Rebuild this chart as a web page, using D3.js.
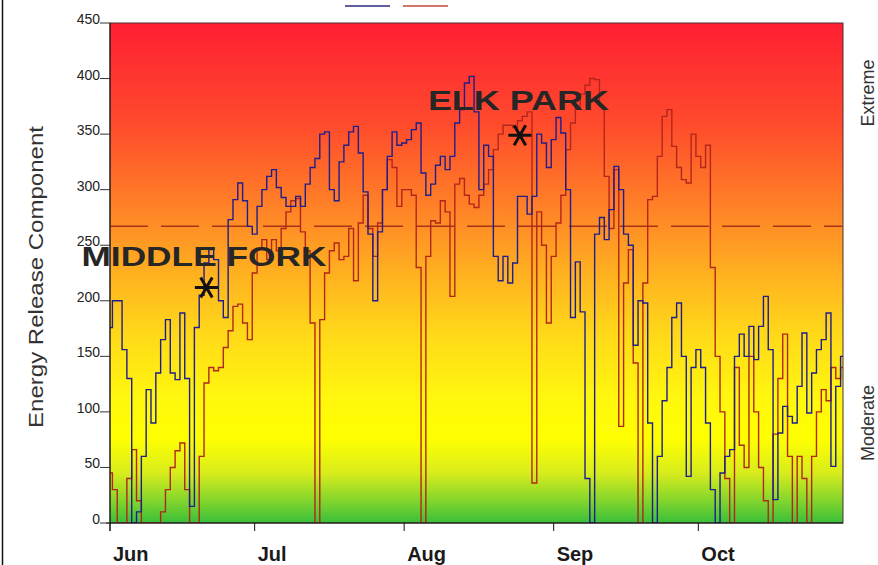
<!DOCTYPE html>
<html lang="en">
<head>
<meta charset="UTF-8">
<title>Energy Release Component</title>
<script src="https://d3js.org/d3.v7.min.js"></script>
<style>
  body { margin: 0; background: #fff; }
  svg { display: block; }
  .ytick text { font-family: Arial, "Liberation Sans", sans-serif; font-size: 14px; fill: #222; }
  .month { font-family: Arial, "Liberation Sans", sans-serif; font-size: 20px; font-weight: bold; fill: #1a1a1a; }
  .side { font-family: Arial, "Liberation Sans", sans-serif; fill: #333; }
  .site { font-family: Arial, "Liberation Sans", sans-serif; font-weight: bold; fill: #262626; }
</style>
</head>
<body>
<div id="chart"></div>
<script>
// daily values Jun 1 .. Oct 31
const startDay = new Date(2007, 5, 1);
const endDay = new Date(2007, 9, 31);

const middleFork = [
  176, 200, 200, 156, 130, 0, 10, 60, 120, 90,
  135, 165, 183, 135, 129, 189, 130, 15, 176, 205,
  234, 246, 237, 200, 185, 273, 291, 306, 290, 267,
  260, 285, 300, 312, 318, 302, 293, 285, 285, 294,
  285, 305, 320, 328, 350, 352, 300, 290, 325, 340,
  352, 357, 333, 298, 260, 200, 262, 300, 330, 352,
  340, 342, 345, 354, 360, 315, 295, 305, 322, 330,
  318, 330, 360, 372, 396, 402, 370, 300, 340, 330,
  240, 218, 240, 216, 234, 294, 294, 278, 294, 350,
  342, 320, 345, 365, 351, 300, 185, 235, 190, 40,
  0, 260, 275, 255, 282, 321, 300, 260, 250, 160,
  200, 198, 90, 0, 60, 110, 140, 185, 198, 150,
  42, 140, 156, 140, 90, 30, 0, 45, 60, 66,
  150, 170, 150, 177, 147, 177, 204, 156, 21, 81,
  105, 96, 90, 123, 171, 99, 135, 156, 165, 189,
  51, 123, 150
];

const elkPark = [
  45, 30, 0, 0, 40, 66, 20, 0, 0, 0,
  0, 10, 30, 50, 65, 72, 30, 0, 0, 60,
  126, 140, 137, 140, 158, 173, 195, 197, 180, 165,
  225, 246, 255, 237, 255, 245, 265, 280, 290, 292,
  262, 245, 180, 0, 183, 225, 245, 252, 237, 240,
  265, 218, 270, 295, 265, 240, 270, 300, 327, 320,
  285, 300, 300, 295, 230, 0, 240, 272, 270, 290,
  280, 204, 305, 310, 295, 287, 284, 295, 305, 318,
  336, 350, 358, 358, 356, 362, 366, 370, 36, 280,
  250, 180, 240, 270, 295, 336, 360, 373, 386, 394,
  400, 399, 375, 312, 265, 318, 87, 216, 246, 144,
  0, 216, 291, 294, 330, 366, 372, 339, 320, 309,
  306, 350, 330, 320, 340, 230, 150, 100, 40, 0,
  140, 70, 50, 150, 100, 50, 20, 0, 80, 130,
  170, 60, 0, 60, 40, 0, 60, 100, 120, 110,
  140, 130, 140
];

const yTicks = [0, 50, 100, 150, 200, 250, 300, 350, 400, 450];
const monthStarts = [new Date(2007, 5, 1), new Date(2007, 6, 1), new Date(2007, 7, 1), new Date(2007, 8, 1), new Date(2007, 9, 1)];
const thresholdValue = 267;
const sites = [
  { name: "MIDDLE FORK", date: new Date(2007, 5, 21), value: 212 },
  { name: "ELK PARK", date: new Date(2007, 7, 25), value: 349 }
];

const width = 878, height = 565;
const plotLeft = 110, plotRight = 843, plotTop = 23, plotBottom = 523;

const svg = d3.select("#chart").append("svg")
  .attr("width", width)
  .attr("height", height);

const x = d3.scaleTime().domain([startDay, endDay]).range([plotLeft, plotRight]);
const y = d3.scaleLinear().domain([0, 450]).range([plotBottom, plotTop]);

// background gradient
const defs = svg.append("defs");
const grad = defs.append("linearGradient")
  .attr("id", "bg").attr("x1", 0).attr("y1", 0).attr("x2", 0).attr("y2", 1);
[[0, "#ff1f33"], [0.2, "#ff4a2c"], [0.4, "#ff8c26"], [0.5, "#ffb020"], [0.62, "#ffd819"],
 [0.75, "#fff70e"], [0.83, "#ffff00"], [0.9, "#d8ec1c"], [0.96, "#7cd32e"], [1, "#39bf3a"]]
  .forEach(s => grad.append("stop").attr("offset", s[0]).attr("stop-color", s[1]));

defs.append("clipPath").attr("id", "plotclip")
  .append("rect").attr("x", plotLeft).attr("y", plotTop)
  .attr("width", plotRight - plotLeft).attr("height", plotBottom - plotTop);

svg.append("rect")
  .attr("x", plotLeft).attr("y", plotTop)
  .attr("width", plotRight - plotLeft).attr("height", plotBottom - plotTop)
  .attr("fill", "url(#bg)")
  .attr("stroke", "#4a3030").attr("stroke-width", 1);

// outer frame line on the left
svg.append("line").attr("x1", 2.5).attr("x2", 2.5).attr("y1", 0).attr("y2", height)
  .attr("stroke", "#111").attr("stroke-width", 1.5);

// threshold
svg.append("line")
  .attr("x1", plotLeft).attr("x2", plotRight)
  .attr("y1", y(thresholdValue)).attr("y2", y(thresholdValue))
  .attr("stroke", "#a83418").attr("stroke-width", 1.5)
  .attr("stroke-dasharray", "38,13");

// series
const days = d3.timeDay.range(startDay, d3.timeDay.offset(endDay, 1));
const line = d3.line()
  .x((d, i) => x(days[i]))
  .y(d => y(d))
  .curve(d3.curveStep);

const g = svg.append("g").attr("clip-path", "url(#plotclip)");
g.append("path").datum(elkPark)
  .attr("d", line).attr("fill", "none")
  .attr("stroke", "#b3261c").attr("stroke-width", 1.4);
g.append("path").datum(middleFork)
  .attr("d", line).attr("fill", "none")
  .attr("stroke", "#1e1e8c").attr("stroke-width", 1.4);

// axes
svg.append("line").attr("x1", plotLeft).attr("x2", plotLeft).attr("y1", plotTop).attr("y2", plotBottom + 8)
  .attr("stroke", "#111");
svg.append("line").attr("x1", plotLeft - 4).attr("x2", plotRight).attr("y1", plotBottom).attr("y2", plotBottom)
  .attr("stroke", "#111");

const yt = svg.selectAll(".ytick").data(yTicks).enter().append("g")
  .attr("class", "ytick")
  .attr("transform", d => `translate(0,${y(d)})`);
yt.append("line").attr("x1", plotLeft - 10).attr("x2", plotLeft).attr("stroke", "#333");
yt.append("text").attr("x", plotLeft - 10).attr("y", 1).attr("text-anchor", "end").text(d => d);

svg.selectAll(".mtick").data(monthStarts).enter().append("line")
  .attr("x1", d => x(d)).attr("x2", d => x(d))
  .attr("y1", plotBottom).attr("y2", plotBottom + 8)
  .attr("stroke", "#111");
svg.selectAll(".month").data(monthStarts).enter().append("text")
  .attr("class", "month")
  .attr("x", d => x(d) + 3).attr("y", 561)
  .text(d => d3.timeFormat("%b")(d));

// side labels
svg.append("text").attr("class", "side")
  .attr("transform", "translate(43,277) rotate(-90)")
  .attr("text-anchor", "middle").style("font-size", "20px")
  .attr("textLength", 302).attr("lengthAdjust", "spacingAndGlyphs")
  .text("Energy Release Component");
svg.append("text").attr("class", "side")
  .attr("transform", "translate(874,93) rotate(-90)")
  .attr("text-anchor", "middle").style("font-size", "18px")
  .text("Extreme");
svg.append("text").attr("class", "side")
  .attr("transform", "translate(874,423) rotate(-90)")
  .attr("text-anchor", "middle").style("font-size", "18px")
  .text("Moderate");

// legend swatches
svg.append("line").attr("x1", 345).attr("x2", 390).attr("y1", 6).attr("y2", 6)
  .attr("stroke", "#2a2a80").attr("stroke-width", 1.5);
svg.append("line").attr("x1", 403).attr("x2", 448).attr("y1", 6).attr("y2", 6)
  .attr("stroke", "#c04838").attr("stroke-width", 1.5);

// site markers
const star = d3.symbol().type(d3.symbolAsterisk).size(380);
sites.forEach((s, i) => {
  const sx = x(s.date), sy = y(s.value);
  svg.append("path").attr("d", star)
    .attr("transform", `translate(${sx},${sy}) rotate(90)`)
    .attr("fill", "none").attr("stroke", "#111").attr("stroke-width", 3);
  const t = svg.append("text").attr("class", "site")
    .style("font-size", "27px")
    .text(s.name);
  if (i === 0) {
    t.attr("x", sx - 125).attr("y", sy - 21).attr("textLength", 245).attr("lengthAdjust", "spacingAndGlyphs");
  } else {
    t.attr("x", sx - 92).attr("y", sy - 25).attr("textLength", 181).attr("lengthAdjust", "spacingAndGlyphs");
  }
});
</script>
</body>
</html>
